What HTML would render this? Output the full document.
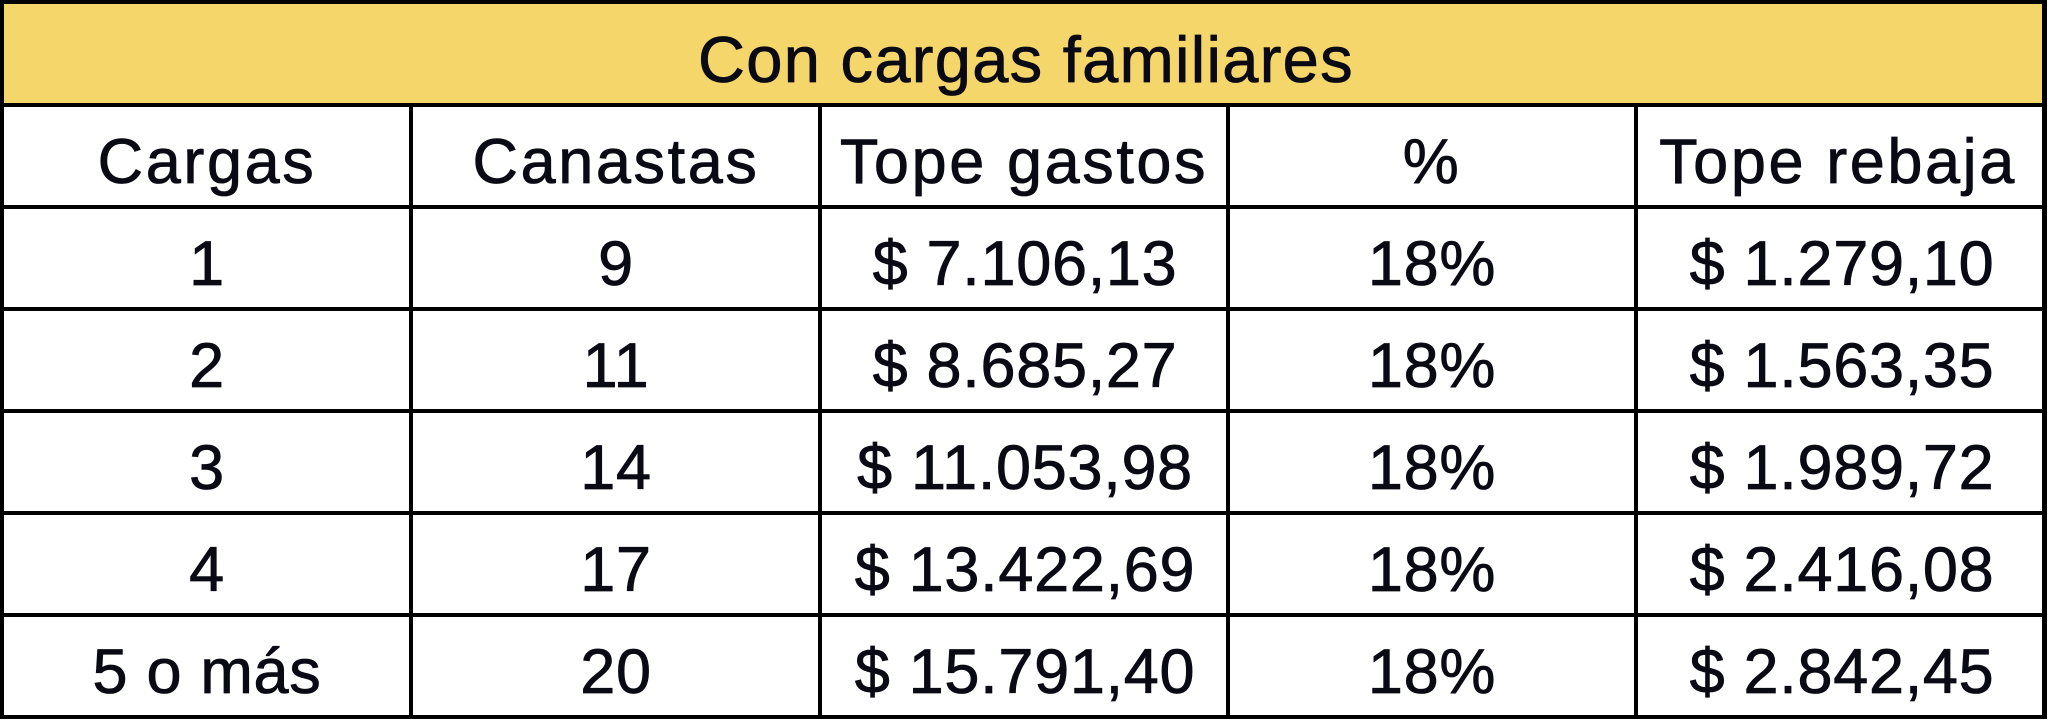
<!DOCTYPE html>
<html>
<head>
<meta charset="utf-8">
<style>
html,body{margin:0;padding:0;background:#fff;}
body{width:2048px;height:723px;overflow:hidden;}
svg{display:block;}
text{font-family:"Liberation Sans",Arial,sans-serif;fill:#0a0a14;stroke:#0a0a14;stroke-width:0.8px;}
.t{font-size:65px;letter-spacing:1.3px;}
.h{font-size:63px;letter-spacing:2.6px;}
.d{font-size:63px;letter-spacing:0.7px;}
</style>
</head>
<body>
<svg width="2048" height="723" viewBox="0 0 2048 723" xmlns="http://www.w3.org/2000/svg">
  <rect x="0" y="0" width="2048" height="723" fill="#ffffff"/>
  <rect x="0" y="0" width="2047" height="105" fill="#F4D66B"/>

  <g fill="#000">
    <rect x="0" y="0" width="2047" height="4"/>
    <rect x="0" y="103" width="2047" height="4"/>
    <rect x="0" y="205" width="2047" height="4"/>
    <rect x="0" y="307" width="2047" height="4"/>
    <rect x="0" y="409" width="2047" height="4"/>
    <rect x="0" y="511" width="2047" height="4"/>
    <rect x="0" y="613" width="2047" height="4"/>
    <rect x="0" y="715" width="2047" height="4"/>
    <rect x="0" y="0" width="4" height="719"/>
    <rect x="2042" y="0" width="5" height="719"/>
    <rect x="409" y="103" width="4" height="616"/>
    <rect x="818" y="103" width="4" height="616"/>
    <rect x="1226" y="103" width="4" height="616"/>
    <rect x="1634" y="103" width="4" height="616"/>
  </g>

  <text class="t" x="1026" y="82" text-anchor="middle">Con cargas familiares</text>

  <g text-anchor="middle">
    <text class="h" x="207" y="183">Cargas</text>
    <text class="h" x="616" y="183">Canastas</text>
    <text class="h" x="1024" y="183">Tope gastos</text>
    <text class="h" x="1432" y="183">%</text>
    <text class="h" x="1838" y="183">Tope rebaja</text>

    <text class="d" x="207" y="285">1</text>
    <text class="d" x="616" y="285">9</text>
    <text class="d" x="1025" y="285">$ 7.106,13</text>
    <text class="d" x="1432" y="285">18%</text>
    <text class="d" x="1842" y="285">$ 1.279,10</text>

    <text class="d" x="207" y="387">2</text>
    <text class="d" x="616" y="387">11</text>
    <text class="d" x="1025" y="387">$ 8.685,27</text>
    <text class="d" x="1432" y="387">18%</text>
    <text class="d" x="1842" y="387">$ 1.563,35</text>

    <text class="d" x="207" y="489">3</text>
    <text class="d" x="616" y="489">14</text>
    <text class="d" x="1025" y="489">$ 11.053,98</text>
    <text class="d" x="1432" y="489">18%</text>
    <text class="d" x="1842" y="489">$ 1.989,72</text>

    <text class="d" x="207" y="591">4</text>
    <text class="d" x="616" y="591">17</text>
    <text class="d" x="1025" y="591">$ 13.422,69</text>
    <text class="d" x="1432" y="591">18%</text>
    <text class="d" x="1842" y="591">$ 2.416,08</text>

    <text class="d" x="207" y="693">5 o más</text>
    <text class="d" x="616" y="693">20</text>
    <text class="d" x="1025" y="693">$ 15.791,40</text>
    <text class="d" x="1432" y="693">18%</text>
    <text class="d" x="1842" y="693">$ 2.842,45</text>
  </g>
</svg>
</body>
</html>
